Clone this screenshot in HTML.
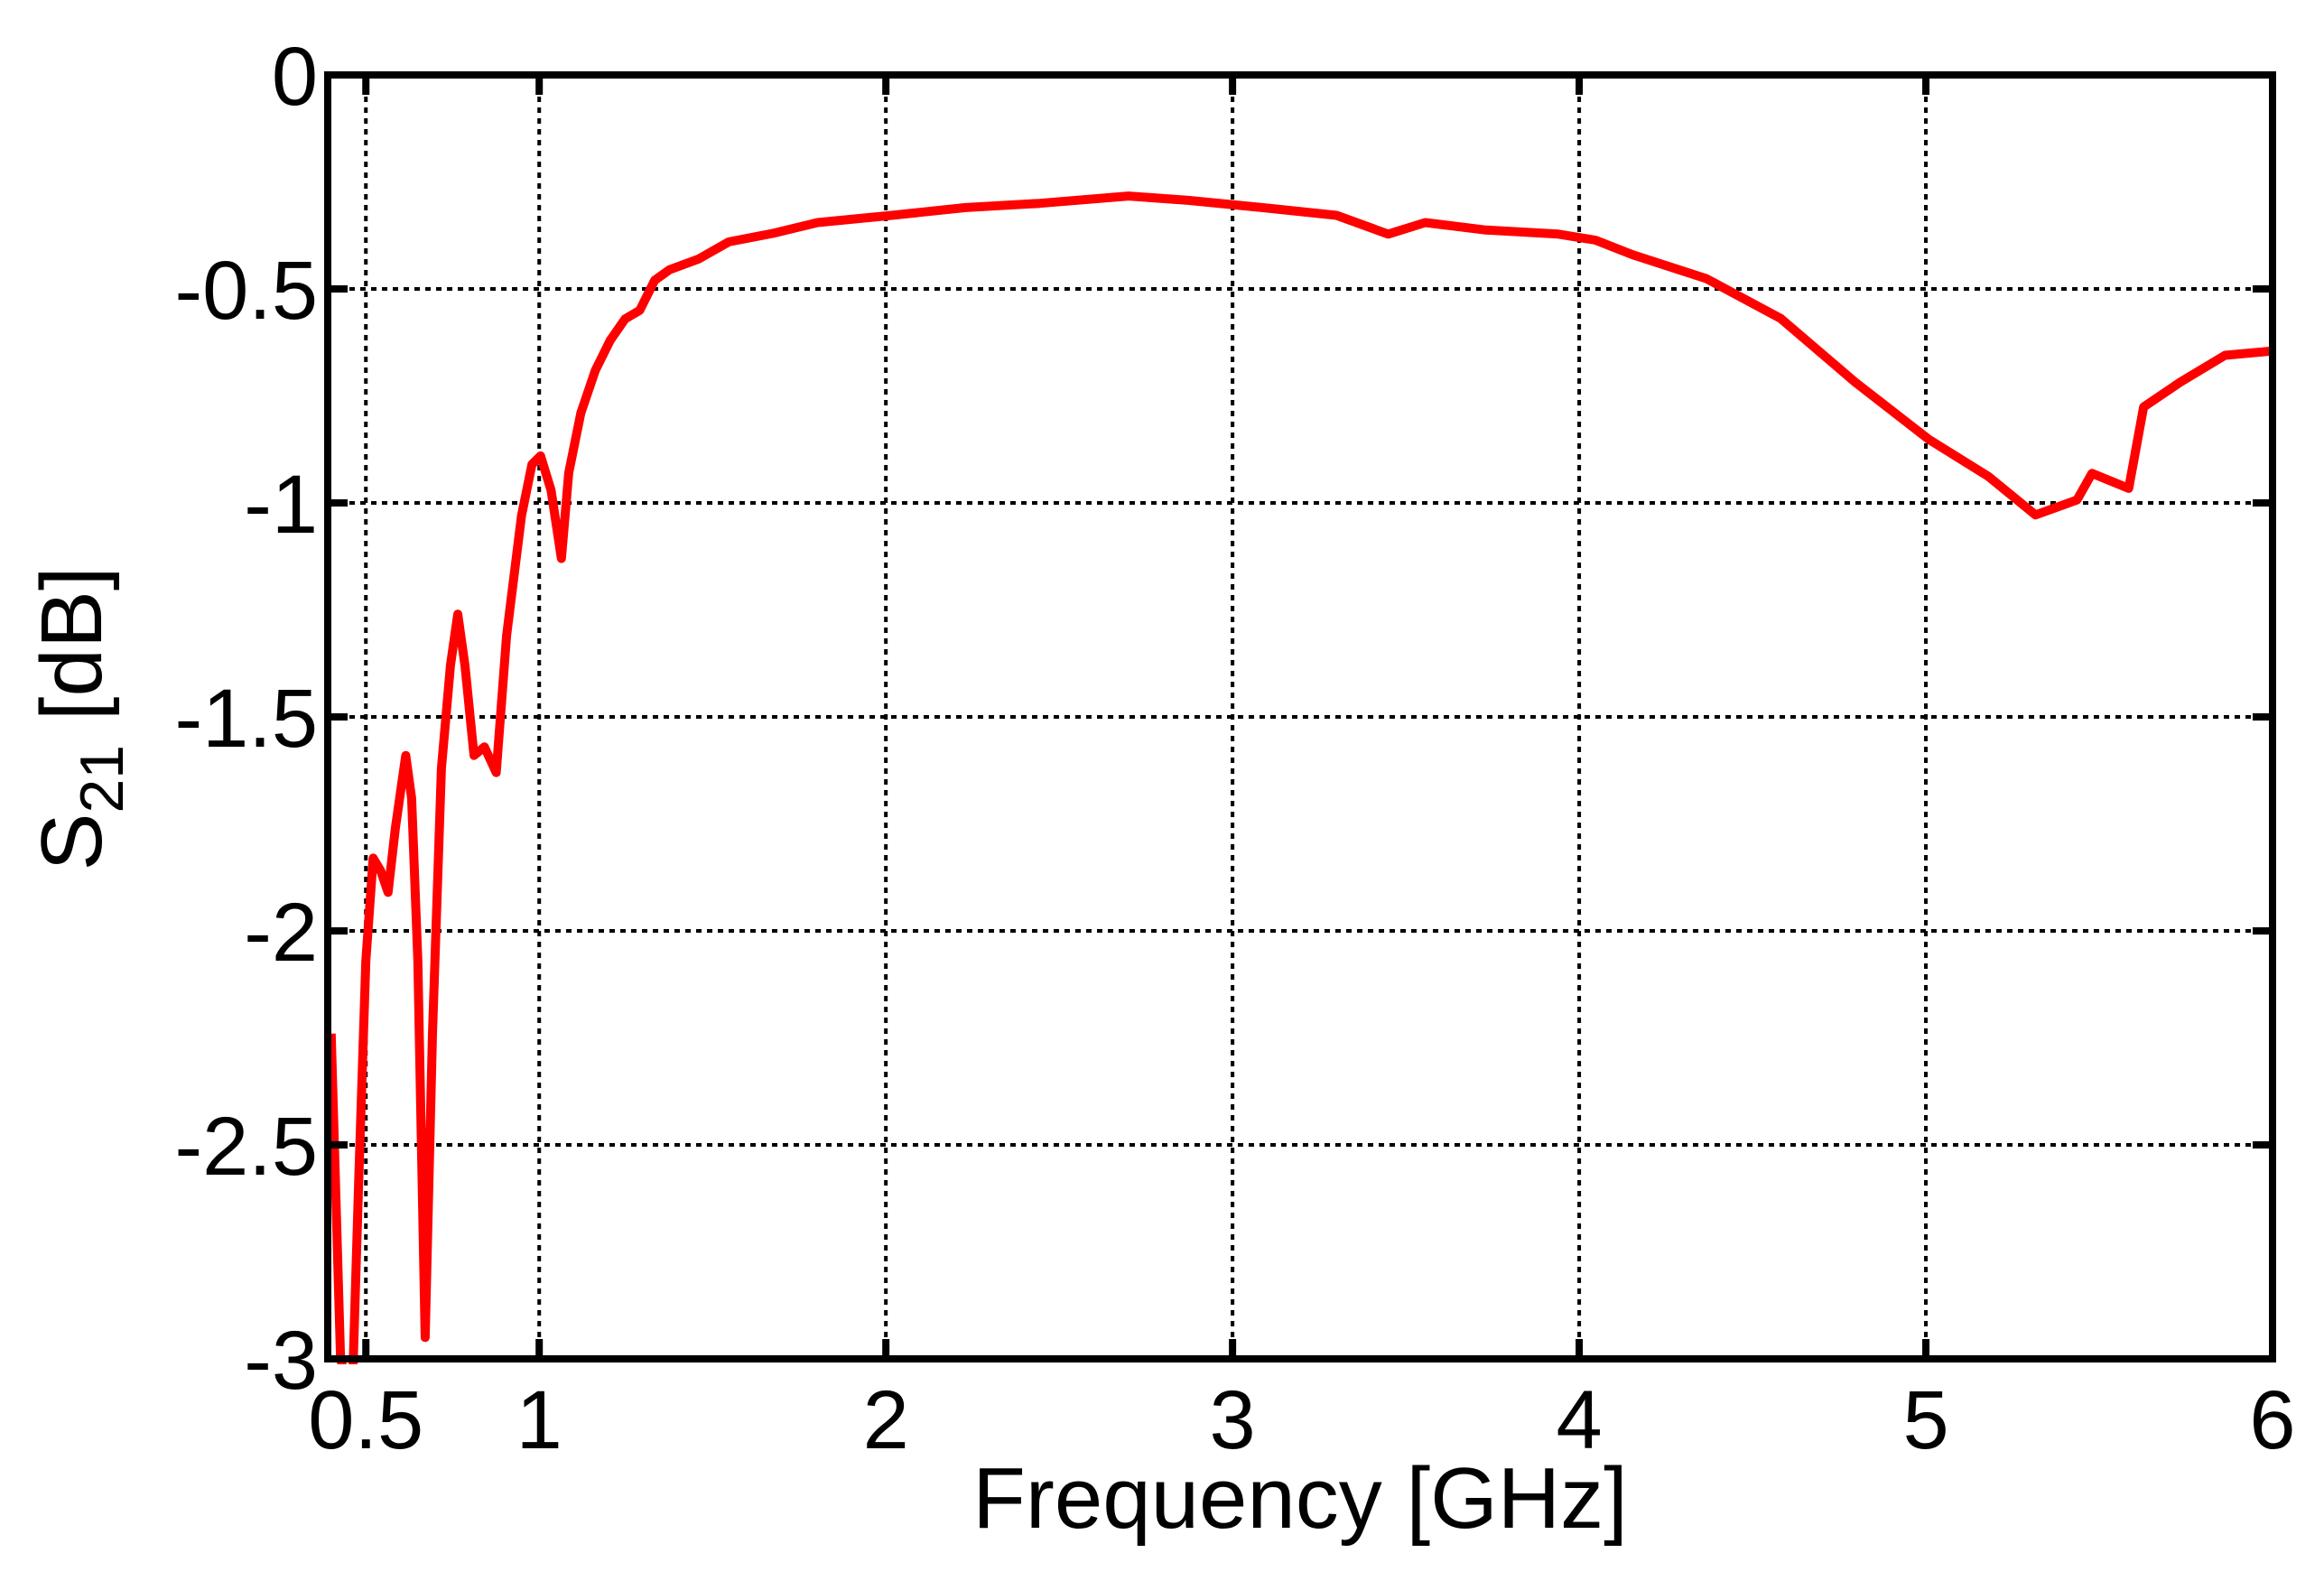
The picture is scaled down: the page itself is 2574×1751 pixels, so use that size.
<!DOCTYPE html>
<html><head><meta charset="utf-8"><style>
html,body{margin:0;padding:0;background:#fff;}
svg{display:block;font-family:"Liberation Sans",Arial,sans-serif;}
</style></head><body>
<svg id="chart" width="2574" height="1751" viewBox="0 0 2574 1751" xmlns="http://www.w3.org/2000/svg">
<rect width="2574" height="1751" fill="#fff"/>
<g id="grid"></g>
<g id="series"></g>
<g id="axes"></g>
<g id="labels"></g>
</svg>
<script>
const freqs=[0.40,0.427,0.46,0.479,0.50,0.521,0.543,0.564,0.585,0.615,0.632,0.65,0.671,0.692,0.718,0.744,0.765,0.786,0.812,0.842,0.876,0.906,0.949,0.979,1.004,1.034,1.064,1.085,1.12,1.162,1.205,1.248,1.29,1.333,1.376,1.46,1.547,1.675,1.803,2.017,2.23,2.444,2.70,2.872,3.085,3.30,3.449,3.556,3.726,3.94,4.047,4.154,4.367,4.581,4.795,5.009,5.18,5.316,5.436,5.479,5.585,5.628,5.735,5.863,6.0];
const s21=[-2.24,-3.0,-3.1,-2.59,-2.07,-1.83,-1.86,-1.91,-1.76,-1.59,-1.69,-2.07,-2.95,-2.24,-1.62,-1.38,-1.26,-1.38,-1.59,-1.57,-1.63,-1.31,-1.03,-0.91,-0.89,-0.97,-1.13,-0.93,-0.79,-0.69,-0.62,-0.57,-0.55,-0.48,-0.455,-0.43,-0.39,-0.37,-0.345,-0.328,-0.31,-0.30,-0.283,-0.293,-0.31,-0.328,-0.372,-0.345,-0.362,-0.372,-0.386,-0.42,-0.476,-0.569,-0.717,-0.852,-0.938,-1.028,-0.993,-0.931,-0.966,-0.776,-0.717,-0.655,-0.645];
const xTicks=[0.5,1,2,3,4,5,6];
const xTickLabels=["0.5","1","2","3","4","5","6"];
const yTicks=[0,-0.5,-1,-1.5,-2,-2.5,-3];
const yTickLabels=["0","-0.5","-1","-1.5","-2","-2.5","-3"];

const L=363,R=2517,T=83,B=1505,XMIN=0.39,XMAX=6,YMIN=-3,YMAX=0;
const xs=f=>L+(f-XMIN)/(XMAX-XMIN)*(R-L);
const ys=v=>T+(YMAX-v)/(YMAX-YMIN)*(B-T);
const NS="http://www.w3.org/2000/svg";
function mk(tag,attrs,parent){const e=document.createElementNS(NS,tag);for(const k in attrs)e.setAttribute(k,attrs[k]);parent.appendChild(e);return e;}
const grid=document.getElementById('grid'),axes=document.getElementById('axes'),labels=document.getElementById('labels'),series=document.getElementById('series');
const svg=document.getElementById('chart');
const defs=mk('defs',{},svg);
const cp=mk('clipPath',{id:'clip'},defs);
mk('rect',{x:L,y:T-6,width:R-L,height:B-T+12},cp);

xTicks.forEach((t,i)=>{
  const x=xs(t);
  const g=mk('line',{x1:x,y1:T,x2:x,y2:B,stroke:'#000','stroke-width':4,'stroke-dasharray':'6 6'},grid);
  
  
  const tk=mk('path',{d:`M${x},${B}V${B-22}M${x},${T}V${T+22}`,stroke:'#000','stroke-width':8},axes);
  
  
  const tx=mk('text',{x:x,y:1604,'font-size':92,'text-anchor':'middle',fill:'#000'},labels);
  tx.textContent=xTickLabels[i];
  
  
});
yTicks.forEach((t,i)=>{
  const y=ys(t);
  const g=mk('line',{x1:L,y1:y,x2:R,y2:y,stroke:'#000','stroke-width':4,'stroke-dasharray':'6 6'},grid);
  
  
  const tk=mk('path',{d:`M${L},${y}H${L+22}M${R},${y}H${R-22}`,stroke:'#000','stroke-width':8},axes);
  
  
  const tx=mk('text',{x:352,y:y+33,'font-size':92,'text-anchor':'end',fill:'#000'},labels);
  tx.textContent=yTickLabels[i];
  
  
});
const frame=mk('rect',{x:L,y:T,width:R-L,height:B-T,fill:'none',stroke:'#000','stroke-width':8},axes);



const d=freqs.map((f,i)=>(i?'L':'M')+xs(f).toFixed(1)+','+ys(s21[i]).toFixed(1)).join('');
const line=mk('path',{d:d,fill:'none',stroke:'#ff0000','stroke-width':10,'stroke-linejoin':'round','clip-path':'url(#clip)'},series);



const xl=mk('text',{x:1440,y:1692,'font-size':96,'text-anchor':'middle',fill:'#000'},labels);
xl.textContent='Frequency [GHz]';


const yl=mk('text',{x:0,y:0,'font-size':96,'text-anchor':'middle',fill:'#000',transform:'translate(112,796) rotate(-90)'},labels);
yl.innerHTML='S<tspan font-size="68" dy="24">21</tspan><tspan dy="-24"> [dB]</tspan>';


</script>
</body></html>
